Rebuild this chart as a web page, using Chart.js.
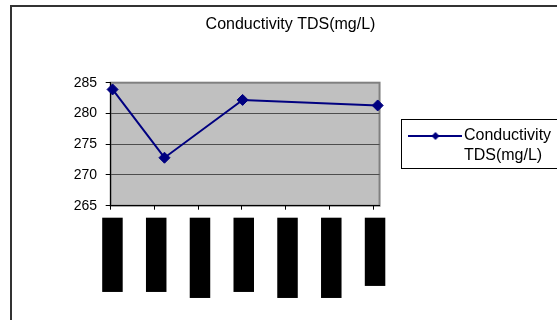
<!DOCTYPE html>
<html>
<head>
    <title>Conductivity TDS(mg/L)</title>
    <script src="https://cdn.jsdelivr.net/npm/chart.js"></script>
    <style>
        html, body { margin: 0; padding: 0; overflow: hidden; background: #fff; }
        #frame {
            position: absolute; left: 10px; top: 5px;
            border-left: 2px solid #333; border-top: 2px solid #333;
            width: 557px; height: 313px;
        }
        #tdsChart { display: block; }
    </style>
</head>
<body>
    <div id="frame"><canvas id="tdsChart" width="557" height="313"></canvas></div>
    <script>
        // values (x = day of sampling period)
        const seriesName = 'Conductivity TDS(mg/L)';
        const legendLines = ['Conductivity', 'TDS(mg/L)'];
        const sampleDays = [0.3, 8.6, 21.1, 42.7];
        const tdsValues = [283.9, 272.8, 282.2, 281.3];
        // the category labels are blacked out in the picture
        const xTickLabels = [
            '████████████',
            '████████████',
            '█████████████',
            '████████████',
            '█████████████',
            '█████████████',
            '███████████'
        ];
        const yMin = 265, yMax = 285, yStep = 5;
        const dayMax = 43, dayStep = 7;

        const navy = '#000080';
        const font = 'Liberation Sans';

        // line + diamond sample for the legend
        function legendMarker() {
            const c = document.createElement('canvas');
            c.width = 54;
            c.height = 10;
            const g = c.getContext('2d');
            g.strokeStyle = navy;
            g.lineWidth = 2;
            g.beginPath();
            g.moveTo(0, 5);
            g.lineTo(54, 5);
            g.stroke();
            g.fillStyle = navy;
            g.beginPath();
            g.moveTo(23, 5);
            g.lineTo(27, 1);
            g.lineTo(31, 5);
            g.lineTo(27, 9);
            g.closePath();
            g.fill();
            return c;
        }

        const plotFrame = {
            id: 'plotFrame',
            beforeDraw(chart) {
                const {ctx, chartArea: a} = chart;
                ctx.save();
                ctx.fillStyle = '#c0c0c0';
                ctx.fillRect(a.left, a.top, a.right - a.left, a.bottom - a.top);
                ctx.strokeStyle = '#808080';
                ctx.lineWidth = 2;
                ctx.strokeRect(a.left, a.top, a.right - a.left, a.bottom - a.top);
                ctx.restore();
            },
            afterDraw(chart) {
                const hb = chart.legend.legendHitBoxes[0];
                if (!hb) return;
                const {ctx} = chart;
                ctx.save();
                ctx.strokeStyle = '#000';
                ctx.lineWidth = 1;
                const l = Math.round(hb.left - 14.4) + 0.5;
                const t = Math.round(hb.top - 8.7) + 0.5;
                const b = Math.round(hb.top + hb.height + 1.3) + 0.5;
                ctx.strokeRect(l, t, chart.width + 20 - l, b - t);
                ctx.restore();
            }
        };

        const ctx = document.getElementById('tdsChart').getContext('2d');
        new Chart(ctx, {
            type: 'line',
            data: {
                datasets: [{
                    label: seriesName,
                    data: sampleDays.map((d, i) => ({x: d, y: tdsValues[i]})),
                    borderColor: navy,
                    backgroundColor: navy,
                    borderWidth: 2,
                    pointStyle: 'rectRot',
                    pointRadius: 5.5,
                    pointBorderWidth: 1,
                    pointBackgroundColor: navy,
                    pointBorderColor: navy,
                    tension: 0,
                    clip: false
                }]
            },
            options: {
                responsive: false,
                animation: false,
                layout: { padding: { left: 7.9, right: 7.9, top: 0, bottom: 0 } },
                scales: {
                    x: {
                        type: 'linear',
                        min: 0,
                        max: dayMax,
                        afterFit: s => { s.height = 114.3; },
                        ticks: {
                            stepSize: dayStep,
                            includeBounds: false,
                            autoSkip: false,
                            minRotation: 90,
                            maxRotation: 90,
                            padding: 9,
                            color: '#000',
                            font: { family: 'DejaVu Sans Mono', size: 10 },
                            showLabelBackdrop: true,
                            backdropColor: '#000',
                            backdropPadding: { top: 8.5, bottom: 0, left: 1, right: 1 },
                            callback: (v, i) => xTickLabels[i]
                        },
                        grid: {
                            drawOnChartArea: false,
                            drawTicks: true,
                            tickLength: 4,
                            tickColor: '#000',
                            color: '#000'
                        },
                        border: { color: '#000', width: 1 }
                    },
                    y: {
                        min: yMin,
                        max: yMax,
                        afterFit: s => { s.width = 90.8; },
                        ticks: {
                            stepSize: yStep,
                            padding: 8.7,
                            color: '#000',
                            font: { family: font, size: 14 }
                        },
                        grid: {
                            color: c => c.tick.value === yMax ? '#808080' : (c.tick.value === yMin ? '#000' : '#4d4d4d'),
                            tickColor: '#000',
                            tickLength: 5
                        },
                        border: { color: '#000', width: 1 }
                    }
                },
                plugins: {
                    title: {
                        display: true,
                        text: seriesName,
                        color: '#000',
                        font: { family: font, size: 16, weight: 'normal' },
                        padding: { top: 8, bottom: 48.5 }
                    },
                    legend: {
                        position: 'right',
                        fullSize: false,
                        align: 'center',
                        maxWidth: 400,
                        // empty title, only used to push the entry down a little
                        title: {
                            display: true,
                            text: ' ',
                            font: { family: font, size: 5, lineHeight: 1 },
                            padding: { top: 0, bottom: 1 }
                        },
                        labels: {
                            usePointStyle: true,
                            pointStyle: legendMarker(),
                            pointStyleWidth: 41,
                            padding: 35.4,
                            color: '#000',
                            font: { family: font, size: 16 },
                            generateLabels: chart => {
                                const items = Chart.defaults.plugins.legend.labels.generateLabels(chart);
                                items.forEach(it => { it.text = legendLines; });
                                return items;
                            }
                        }
                    },
                    tooltip: { enabled: false }
                }
            },
            plugins: [plotFrame]
        });
    </script>
</body>
</html>
